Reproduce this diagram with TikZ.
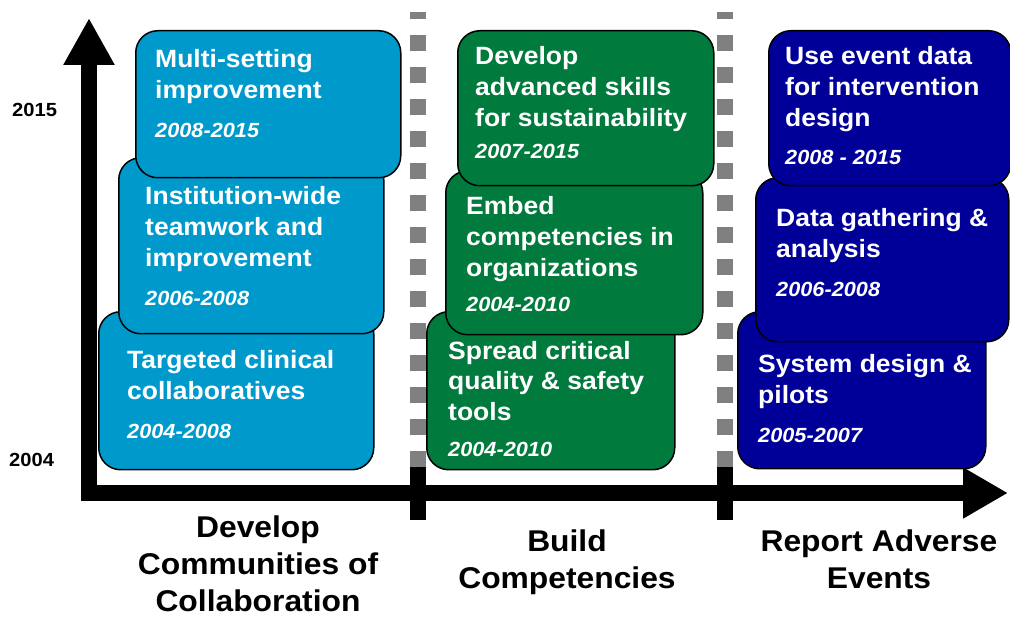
\documentclass[tikz,border=0pt]{standalone}
\usepackage{fontspec}
\setmainfont{Liberation Sans}[FakeStretch=1.06]
\usetikzlibrary{arrows.meta}

\definecolor{commblue}{RGB}{0,153,204}
\definecolor{compgreen}{RGB}{0,122,61}
\definecolor{eventnavy}{RGB}{0,0,153}
\definecolor{divgray}{RGB}{128,128,128}

\tikzset{
  phasebox/.style={draw=black, line width=1.5pt, rounded corners=22pt, anchor=north west, inner sep=0pt},
  phasetitle/.style={text=white, font=\bfseries\fontsize{25}{31}\selectfont, align=left, anchor=base west, inner sep=0pt},
  phaseyears/.style={text=white, font=\bfseries\itshape\fontsize{20.5}{24}\selectfont, anchor=base west, inner sep=0pt},
  trackname/.style={font=\bfseries\fontsize{30}{37}\selectfont, align=center, anchor=base, inner sep=0pt},
  yearmark/.style={font=\bfseries\fontsize{19}{22}\selectfont, anchor=base west, inner sep=0pt},
  axisline/.style={line width=16pt, black},
}

\begin{document}
\begin{tikzpicture}[x=1pt,y=-1pt]
\useasboundingbox (0,0) rectangle (1010,617);

% track dividers
\foreach \dx in {418,725}{
  \draw[divgray, line width=16pt, dash pattern=on 16.5pt off 15.5pt, dash phase=9pt] (\dx,12) -- (\dx,467);
}

% axes
\coordinate (origin) at (89,493);
\coordinate (ytop) at (89,18);
\coordinate (xend) at (1008,493);
\draw[axisline, -{Triangle[length=47pt,width=48pt]}] (89,501) -- (ytop);
\draw[axisline, -{Triangle[length=45pt,width=48pt]}] (81,493) -- (xend);
\foreach \dx in {418,725}{
  \fill[black] (\dx-8,467) rectangle (\dx+8,520);
}

\node[yearmark] (y15) at (12,117) {2015};
\node[yearmark] (y04) at (9,467) {2004};

% communities of collaboration (titles sit on their last line)
\node[phasebox, fill=commblue, minimum width=275pt, minimum height=158pt] (cb1) at (98,311) {};
\node[phasebox, fill=commblue, minimum width=265pt, minimum height=176pt] (cb2) at (118,157) {};
\node[phasebox, fill=commblue, minimum width=265pt, minimum height=147pt] (cb3) at (135,30) {};
\node[phasetitle] (cb1t) at (127,400) {Targeted clinical\\collaboratives};
\node[phaseyears] (cb1y) at (127,439) {2004-2008};
\node[phasetitle] (cb2t) at (145,267) {Institution-wide\\teamwork and\\improvement};
\node[phaseyears] (cb2y) at (145,306) {2006-2008};
\node[phasetitle] (cb3t) at (155,99) {Multi-setting\\improvement};
\node[phaseyears] (cb3y) at (155,138) {2008-2015};

% competencies
\node[phasebox, fill=compgreen, minimum width=248pt, minimum height=158pt] (gb1) at (426,311) {};
\node[phasebox, fill=compgreen, minimum width=257pt, minimum height=164pt] (gb2) at (445,170) {};
\node[phasebox, fill=compgreen, minimum width=256pt, minimum height=155pt] (gb3) at (457,30) {};
\node[phasetitle] (gb1t) at (448,421) {Spread critical\\quality \& safety\\tools};
\node[phaseyears] (gb1y) at (448,457) {2004-2010};
\node[phasetitle] (gb2t) at (466,277) {Embed\\competencies in\\organizations};
\node[phaseyears] (gb2y) at (466,312) {2004-2010};
\node[phasetitle] (gb3t) at (475,127) {Develop\\advanced skills\\for sustainability};
\node[phaseyears] (gb3y) at (475,159) {2007-2015};

% adverse events
\node[phasebox, fill=eventnavy, minimum width=248pt, minimum height=157pt] (nb1) at (737,311) {};
\node[phasebox, fill=eventnavy, minimum width=253pt, minimum height=164pt] (nb2) at (755,177) {};
\node[phasebox, fill=eventnavy, minimum width=242pt, minimum height=155pt] (nb3) at (768,30) {};
\node[phasetitle] (nb1t) at (758,404) {System design \&\\pilots};
\node[phaseyears] (nb1y) at (758,443) {2005-2007};
\node[phasetitle] (nb2t) at (776,258) {Data gathering \&\\analysis};
\node[phaseyears] (nb2y) at (776,297) {2006-2008};
\node[phasetitle] (nb3t) at (785,127) {Use event data\\for intervention\\design};
\node[phaseyears] (nb3y) at (785,165) {2008 - 2015};

% track names
\node[trackname] (tcomm) at (258,611) {Develop\\Communities of\\Collaboration};
\node[trackname] (tcomp) at (567,588) {Build\\Competencies};
\node[trackname] (tevent) at (879,588) {Report Adverse\\Events};
\end{tikzpicture}
\end{document}
